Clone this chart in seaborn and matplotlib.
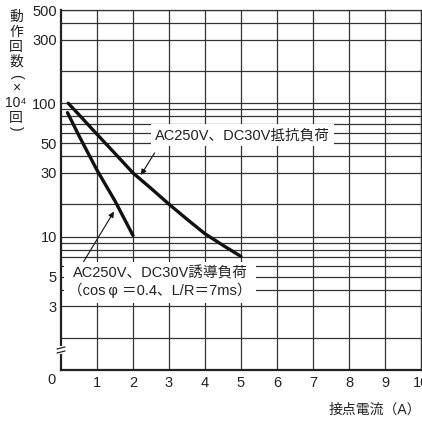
"""
Relay contact life curve (動作回数 vs 接点電流), semi-log grid chart
"""

import numpy as np
import pandas as pd
import matplotlib
matplotlib.use('Agg')
import matplotlib.pyplot as plt
import seaborn as sns

# Data
res_x = [0.2, 0.5, 1.0, 1.5, 2.0, 2.5, 3.0, 3.5, 4.0, 4.5, 5.0]
res_y = [100, 82, 58.5, 42, 30, 23, 17.5, 13.5, 10.5, 8.6, 7.1]
ind_x = [0.18, 0.5, 1.0, 1.5, 2.0]
ind_y = [85, 57, 31.5, 18.5, 10.2]

x_ticks = [1, 2, 3, 4, 5, 6, 7, 8, 9, 10]
y_ticks = [3, 5, 10, 30, 50, 100, 300, 500]
y_minor = [1.75, 4, 6, 7, 8, 9, 17.5, 40, 60, 70, 80, 90, 175, 400]

res_label = 'AC250V、DC30V抵抗負荷'
ind_label = 'AC250V、DC30V誘導負荷\n（cos\u2009φ ＝0.4、L/R＝7ms）'
ylabel_chars = ['動', '作', '回', '数', '(', '×', '10⁴', '回', ')']
xlabel = '接点電流（A）'

W, H = 422, 421
FONT = ['Liberation Sans', 'Noto Sans CJK JP', 'DejaVu Sans']


def px(x, y):
    # pixel position (from top-left) to figure fraction
    return x / W, 1 - y / H


sns.set_style('white')
plt.rcParams['font.family'] = FONT

fig = plt.figure(figsize=(W / 100, H / 100), dpi=100)
ax = fig.add_axes([61 / W, 51 / H, 360 / W, 360 / H])

df_res = pd.DataFrame({'x': res_x, 'y': res_y})
df_ind = pd.DataFrame({'x': ind_x, 'y': ind_y})
sns.lineplot(data=df_res, x='x', y='y', ax=ax, color='#111111', lw=2.4,
             sort=False, zorder=4)
sns.lineplot(data=df_ind, x='x', y='y', ax=ax, color='#111111', lw=2.4,
             sort=False, zorder=4)

ax.set_yscale('log')
ax.set_xlim(0, 10)
ax.set_ylim(1.0, 500)

ax.set_xticks(x_ticks)
ax.set_xticklabels([str(v) for v in x_ticks])
ax.set_yticks(y_ticks)
ax.set_yticklabels([str(v) for v in y_ticks])
ax.set_yticks(y_minor, minor=True)
ax.yaxis.set_minor_formatter(matplotlib.ticker.NullFormatter())
ax.tick_params(which='both', length=0, labelsize=10.5, colors='#222222')
ax.tick_params(axis='x', pad=4)
ax.tick_params(axis='y', pad=3)

ax.grid(True, which='both', color='#333333', lw=0.9)
ax.set_axisbelow(True)
for side in ['top', 'right']:
    ax.spines[side].set_color('#333333')
    ax.spines[side].set_linewidth(0.9)
for side in ['left', 'bottom']:
    ax.spines[side].set_color('#222222')
    ax.spines[side].set_linewidth(1.6)
ax.set_xlabel('')
ax.set_ylabel('')

# "0" at origin
fig.text(*px(52, 380), '0', ha='center', va='center', fontsize=10.5,
         color='#222222')

# axis break mark on the y axis
bx, by = px(61, 350)
fig.add_artist(plt.Line2D([bx, bx], [by - 2 / H, by + 2 / H], color='white',
                          lw=3, transform=fig.transFigure, zorder=5))
for dy in (-2, 2):
    fig.add_artist(plt.Line2D([bx - 4 / W, bx + 4 / W],
                              [by + (dy - 1) / H, by + (dy + 1) / H],
                              color='#222222', lw=0.9,
                              transform=fig.transFigure, zorder=6))

# annotations
ax.annotate('', xy=(2.22, 29.0), xytext=(2.6, 42.4),
            arrowprops=dict(arrowstyle='-|>', color='#111111', lw=0.8,
                            mutation_scale=8, shrinkA=0, shrinkB=0))
ax.text(5.05, 57.7, res_label, ha='center', va='center', fontsize=10.5,
        color='#222222', zorder=5,
        bbox=dict(facecolor='white', edgecolor='none', pad=3))

ax.annotate('', xy=(1.47, 15.4), xytext=(0.58, 6.18),
            arrowprops=dict(arrowstyle='-|>', color='#111111', lw=0.8,
                            mutation_scale=8, shrinkA=0, shrinkB=0))
ax.text(2.75, 4.54, ind_label, ha='center', va='center', fontsize=10.5,
        color='#222222', zorder=5, linespacing=1.2,
        bbox=dict(facecolor='white', edgecolor='none', pad=3))

# vertical y label, one glyph per row (parens turned for vertical writing)
row_y = [17, 32, 47, 62, 76, 88, 103, 118, 128]
for ch, yy in zip(ylabel_chars, row_y):
    rot = -90 if ch in '()' else 0
    fig.text(*px(16, yy), ch, ha='center', va='center', fontsize=10,
             color='#222222', rotation=rot)

fig.text(*px(421, 410), xlabel, ha='right', va='center', fontsize=10,
         color='#222222')

plt.savefig('out.png', dpi=100, facecolor='white')
